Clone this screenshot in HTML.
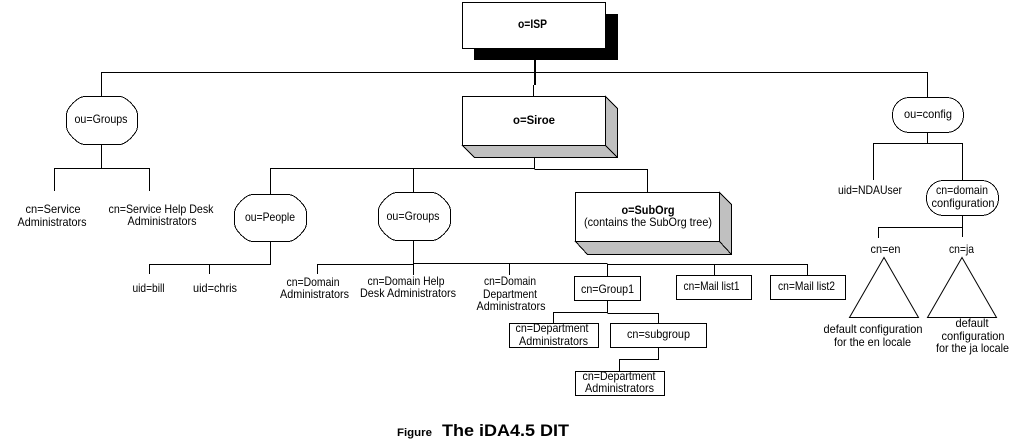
<!DOCTYPE html>
<html><head><meta charset="utf-8"><title>The iDA4.5 DIT</title>
<style>
html,body{margin:0;padding:0;background:#fff;width:1021px;height:445px;overflow:hidden}
svg{display:block}
text{font-family:"Liberation Sans",Arial,sans-serif;font-size:12px;fill:#000;text-anchor:middle}
.b{font-weight:bold}
.s{fill:none;stroke:#000;stroke-width:1;shape-rendering:crispEdges}
.w{fill:#fff;stroke:#000;stroke-width:1;shape-rendering:crispEdges}
.g{fill:#c0c0c0;stroke:#000;stroke-width:1;shape-rendering:crispEdges}
</style></head><body>
<svg width="1021" height="445" viewBox="0 0 1021 445" xmlns="http://www.w3.org/2000/svg">
<!-- connectors -->
<path class="s" d="M101.5 96V72.5H927.5V97M533.5 85V96M101.5 144V168.5M54.5 191V168.5H149.5V191
M534.5 157V168.5H270.5V194M413.5 168V192M534.5 169.5H647.5V192
M270.5 241V264.5H149.5V274M209.5 264V274
M413.5 241V264M317.5 274V264.5H413.5M413.5 264V275M413.5 263.5H607.5M607.5 264.5H807.5V275M509.5 264V275M607.5 264V276M714.5 264V275
M607.5 300V312.5H553.5V323M607.5 313.5H658.5V323M658.5 347V359.5H619.5V371
M927.5 132V143.5M873.5 180V143.5H962.5V180M962.5 215V237M962.5 227.5H878.5V238"/>
<rect x="534" y="60" width="2" height="25" fill="#000"/>

<!-- o=ISP -->
<rect x="474" y="14" width="144" height="46" fill="#000"/>
<rect class="w" x="462.5" y="2.5" width="143" height="46"/>

<!-- o=Siroe -->
<path class="g" d="M605.5 96.5L617.5 108.5V157.5H474.5L462.5 145.5H605.5Z"/>
<path class="s" d="M605.5 145.5L617.5 157.5"/>
<rect class="w" x="462.5" y="96.5" width="143" height="49"/>

<!-- o=SubOrg -->
<path class="g" d="M719.5 192.5L731.5 204.5V254.5H587.5L575.5 241.5H719.5Z"/>
<path class="s" d="M719.5 241.5L731.5 254.5"/>
<rect class="w" x="575.5" y="192.5" width="144" height="49"/>

<!-- pills -->
<path class="w" d="M84.5 96.5H119.5C126 96.5 137.5 108 137.5 114.5V126.5C137.5 133 126 144.5 119.5 144.5H84.5C78 144.5 66.5 133 66.5 126.5V114.5C66.5 108 78 96.5 84.5 96.5Z"/>
<path class="w" d="M252.5 194.5H288.5C295 194.5 306.5 206 306.5 212.5V223.5C306.5 230 295 241.5 288.5 241.5H252.5C246 241.5 234.5 230 234.5 223.5V212.5C234.5 206 246 194.5 252.5 194.5Z"/>
<path class="w" d="M396.5 192.5H432.5C439 192.5 450.5 204 450.5 210.5V222.5C450.5 229 439 240.5 432.5 240.5H396.5C390 240.5 378.5 229 378.5 222.5V210.5C378.5 204 390 192.5 396.5 192.5Z"/>
<rect class="w" x="892.5" y="97.5" width="71" height="35" rx="17" ry="17"/>
<rect class="w" x="926.5" y="180.5" width="72" height="35" rx="17" ry="17"/>

<!-- boxes -->
<rect class="w" x="574.5" y="276.5" width="66" height="24"/>
<rect class="w" x="676.5" y="275.5" width="75" height="24"/>
<rect class="w" x="770.5" y="275.5" width="75" height="24"/>
<rect class="w" x="509.5" y="323.5" width="89" height="24"/>
<rect class="w" x="610.5" y="323.5" width="96" height="24"/>
<rect class="w" x="575.5" y="371.5" width="89" height="24"/>

<!-- triangles -->
<path d="M884 257.5L849.5 317.5H918.5Z" fill="#fff" stroke="#000"/>
<path d="M962 257.5L927.5 317.5H996.5Z" fill="#fff" stroke="#000"/>

<!-- labels -->
<text class="b" x="532.5" y="28" textLength="29" lengthAdjust="spacingAndGlyphs">o=ISP</text>
<text class="b" x="534" y="124" textLength="42" lengthAdjust="spacingAndGlyphs">o=Siroe</text>
<text class="b" x="648" y="214" textLength="53" lengthAdjust="spacingAndGlyphs">o=SubOrg</text>
<text x="648" y="226" textLength="128" lengthAdjust="spacingAndGlyphs">(contains the SubOrg tree)</text>

<text x="101" y="123" textLength="53" lengthAdjust="spacingAndGlyphs">ou=Groups</text>
<text x="53" y="213" textLength="55" lengthAdjust="spacingAndGlyphs">cn=Service</text>
<text x="52" y="226" textLength="69" lengthAdjust="spacingAndGlyphs">Administrators</text>
<text x="161" y="213" textLength="105" lengthAdjust="spacingAndGlyphs">cn=Service Help Desk</text>
<text x="162" y="225" textLength="69" lengthAdjust="spacingAndGlyphs">Administrators</text>

<text x="270" y="221" textLength="50" lengthAdjust="spacingAndGlyphs">ou=People</text>
<text x="413" y="220" textLength="53" lengthAdjust="spacingAndGlyphs">ou=Groups</text>
<text x="148.5" y="292" textLength="32" lengthAdjust="spacingAndGlyphs">uid=bill</text>
<text x="215" y="292" textLength="44" lengthAdjust="spacingAndGlyphs">uid=chris</text>

<text x="313" y="286" textLength="53" lengthAdjust="spacingAndGlyphs">cn=Domain</text>
<text x="314.5" y="298" textLength="69" lengthAdjust="spacingAndGlyphs">Administrators</text>
<text x="406" y="285" textLength="77" lengthAdjust="spacingAndGlyphs">cn=Domain Help</text>
<text x="408" y="297" textLength="96" lengthAdjust="spacingAndGlyphs">Desk Administrators</text>
<text x="510" y="285" textLength="52" lengthAdjust="spacingAndGlyphs">cn=Domain</text>
<text x="510" y="298" textLength="54" lengthAdjust="spacingAndGlyphs">Department</text>
<text x="511" y="310" textLength="69" lengthAdjust="spacingAndGlyphs">Administrators</text>

<text x="607.5" y="293" textLength="53" lengthAdjust="spacingAndGlyphs">cn=Group1</text>
<text x="711.5" y="290" textLength="56" lengthAdjust="spacingAndGlyphs">cn=Mail list1</text>
<text x="806.5" y="290" textLength="57" lengthAdjust="spacingAndGlyphs">cn=Mail list2</text>
<text x="552" y="332" textLength="73" lengthAdjust="spacingAndGlyphs">cn=Department</text>
<text x="553.5" y="345" textLength="69" lengthAdjust="spacingAndGlyphs">Administrators</text>
<text x="658.5" y="338" textLength="63" lengthAdjust="spacingAndGlyphs">cn=subgroup</text>
<text x="619" y="380" textLength="73" lengthAdjust="spacingAndGlyphs">cn=Department</text>
<text x="619.5" y="392" textLength="69" lengthAdjust="spacingAndGlyphs">Administrators</text>

<text x="928" y="118" textLength="48" lengthAdjust="spacingAndGlyphs">ou=config</text>
<text x="870" y="194" textLength="64" lengthAdjust="spacingAndGlyphs">uid=NDAUser</text>
<text x="962" y="194" textLength="52" lengthAdjust="spacingAndGlyphs">cn=domain</text>
<text x="963" y="207" textLength="63" lengthAdjust="spacingAndGlyphs">configuration</text>
<text x="885.5" y="253" textLength="30" lengthAdjust="spacingAndGlyphs">cn=en</text>
<text x="961.5" y="253" textLength="25" lengthAdjust="spacingAndGlyphs">cn=ja</text>
<text x="873" y="333" textLength="99" lengthAdjust="spacingAndGlyphs">default configuration</text>
<text x="872.5" y="346" textLength="77" lengthAdjust="spacingAndGlyphs">for the en locale</text>
<text x="972" y="327" textLength="33" lengthAdjust="spacingAndGlyphs">default</text>
<text x="973" y="340" textLength="63" lengthAdjust="spacingAndGlyphs">configuration</text>
<text x="972.5" y="352" textLength="73" lengthAdjust="spacingAndGlyphs">for the ja locale</text>

<text class="b" x="414.5" y="436" style="font-size:11px" textLength="35" lengthAdjust="spacingAndGlyphs">Figure</text>
<text class="b" x="505.5" y="436" style="font-size:17px" textLength="127" lengthAdjust="spacingAndGlyphs">The iDA4.5 DIT</text>
</svg>
</body></html>
